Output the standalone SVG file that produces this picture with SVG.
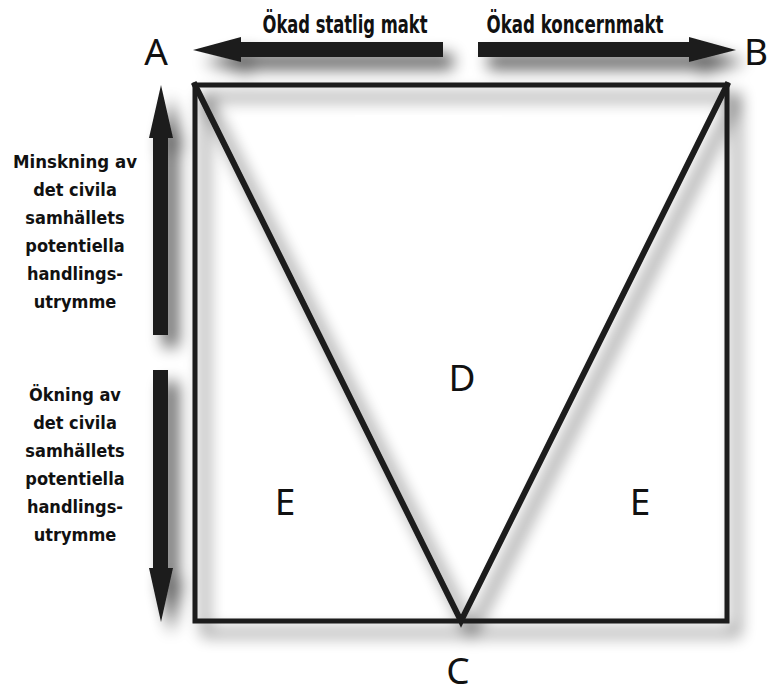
<svg xmlns="http://www.w3.org/2000/svg" width="771" height="695" viewBox="0 0 771 695">
<style>
.ln{fill:none;stroke:#1c1c1c;stroke-linejoin:miter;stroke-linecap:square}
.ar{fill:#1c1c1c}
.lbl{font-family:'Liberation Sans Narrow','DejaVu Sans Condensed','Liberation Sans',sans-serif;font-weight:bold;fill:#111;text-anchor:middle}
.big{font-family:'Noto Sans','DejaVu Sans',sans-serif;font-weight:normal;fill:#111;text-anchor:middle;font-size:37px}
</style>
<defs>
<filter id="sh" filterUnits="userSpaceOnUse" x="0" y="0" width="771" height="695">
<feGaussianBlur in="SourceAlpha" stdDeviation="8"/>
<feOffset dx="10" dy="12" result="o"/>
<feComponentTransfer><feFuncA type="linear" slope="0.65"/></feComponentTransfer>
<feMerge><feMergeNode/><feMergeNode in="SourceGraphic"/></feMerge>
</filter>
</defs>
<rect width="771" height="695" fill="#fff"/>
<g id="connectors" filter="url(#sh)">
<g id="square"><rect class="ln" x="195" y="85" width="532" height="536" stroke-width="5"/></g>
<g id="triangle"><polyline class="ln" points="195,85 461,621 727,85" stroke-width="6" stroke-linejoin="miter"/></g>
<g id="arrow-left"><polygon class="ar" points="443,42 241,42 241,37 193,50 241,62 241,57 443,57"/></g>
<g id="arrow-right"><polygon class="ar" points="478,42 689,42 689,37 736,50 689,62 689,57 478,57"/></g>
<g id="arrow-up"><polygon class="ar" points="153,335 153,138 149,138 161,85 173,138 168,138 168,335"/></g>
<g id="arrow-down"><polygon class="ar" points="153,370 168,370 168,568 173,568 161,622 149,568 153,568"/></g>
</g>
<rect x="355" y="115" width="147" height="14" fill="#fff"/>
<g id="label-top-left"><text class="lbl" x="345" y="33" font-size="24" textLength="165" lengthAdjust="spacingAndGlyphs">Ökad statlig makt</text></g>
<g id="label-top-right"><text class="lbl" x="575" y="33" font-size="24" textLength="177" lengthAdjust="spacingAndGlyphs">Ökad koncernmakt</text></g>
<g id="label-up" class="lbl" font-size="18">
<text x="75" y="168" textLength="124" lengthAdjust="spacingAndGlyphs">Minskning av</text>
<text x="75" y="196">det civila</text>
<text x="75" y="224">samhällets</text>
<text x="75" y="252">potentiella</text>
<text x="75" y="280">handlings-</text>
<text x="75" y="308">utrymme</text>
</g>
<g id="label-down" class="lbl" font-size="18">
<text x="75" y="401">Ökning av</text>
<text x="75" y="429">det civila</text>
<text x="75" y="457">samhällets</text>
<text x="75" y="485">potentiella</text>
<text x="75" y="513">handlings-</text>
<text x="75" y="541">utrymme</text>
</g>
<g id="node-A"><text class="big" x="156" y="65">A</text></g>
<g id="node-B"><text class="big" x="756" y="65">B</text></g>
<g id="node-C"><text class="big" x="458" y="684" font-size="36">C</text></g>
<g id="node-D"><text class="big" x="462" y="391">D</text></g>
<g id="node-E1"><text class="big" x="285" y="515">E</text></g>
<g id="node-E2"><text class="big" x="640" y="515">E</text></g>
</svg>
